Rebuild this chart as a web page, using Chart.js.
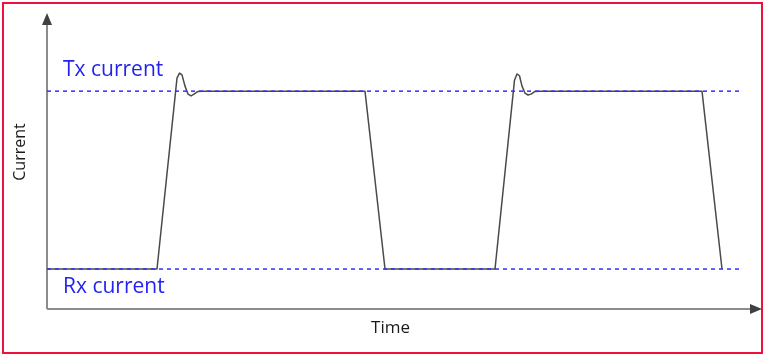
<!DOCTYPE html>
<html>
<head>
<meta charset="utf-8">
<script src="https://cdn.jsdelivr.net/npm/chart.js@4.4.1/dist/chart.umd.min.js"></script>
<style>
    html, body { margin: 0; padding: 0; background: #fff; }
</style>
</head>
<body>
<canvas id="chartContainer" width="765" height="355"></canvas>
<script>
// waveform (time, current), arbitrary units
const timeValues = [0, 22, 26, 26.5, 27, 27.6, 28.2, 28.8, 29.4, 30.2, 31, 63.6, 67.6,
    89.6, 93.5, 94, 94.5, 95, 95.6, 96.2, 96.8, 97.6, 98.4, 131, 135];
const currentValues = [1.35, 1.35, 7.80, 7.97, 7.91, 7.53, 7.26, 7.20, 7.26, 7.35, 7.36, 7.36, 1.35,
    1.35, 7.73, 7.94, 7.88, 7.53, 7.29, 7.23, 7.26, 7.35, 7.36, 7.36, 1.35];

// reference levels
const levelNames = ['Tx current', 'Rx current'];
const levelValues = [7.36, 1.35];
const levelSpan = [0, 139.2];

const axisTitleX = 'Time';
const axisTitleY = 'Current';

const timeMax = 143;
const currentMax = 10;

/**
 * Draws the frame, the arrowed axes, the level labels and the axis titles.
 */
const sketchPlugin = {
    id: 'sketch',
    beforeDatasetsDraw(chart) {
        const ctx = chart.ctx;
        const area = chart.chartArea;
        const x0 = chart.scales.x.getPixelForValue(0);
        const y0 = chart.scales.y.getPixelForValue(0);
        ctx.save();
        ctx.strokeStyle = '#f0103c';
        ctx.lineWidth = 2;
        ctx.strokeRect(3, 3, 759, 350);

        ctx.strokeStyle = '#8c8c8c';
        ctx.lineWidth = 2;
        ctx.beginPath();
        ctx.moveTo(x0, y0);
        ctx.lineTo(x0, area.top + 10);
        ctx.moveTo(x0, y0);
        ctx.lineTo(area.right - 10, y0);
        ctx.stroke();
        ctx.fillStyle = '#404040';
        ctx.beginPath();
        ctx.moveTo(x0, area.top);
        ctx.lineTo(x0 - 5, area.top + 12);
        ctx.lineTo(x0 + 5, area.top + 12);
        ctx.closePath();
        ctx.fill();
        ctx.beginPath();
        ctx.moveTo(area.right, y0);
        ctx.lineTo(area.right - 12, y0 - 5);
        ctx.lineTo(area.right - 12, y0 + 5);
        ctx.closePath();
        ctx.fill();
        ctx.restore();
    },
    afterDraw(chart) {
        const ctx = chart.ctx;
        const area = chart.chartArea;
        const x0 = chart.scales.x.getPixelForValue(0);
        const y0 = chart.scales.y.getPixelForValue(0);
        ctx.save();
        ctx.fillStyle = '#2323f0';
        ctx.font = '21px "Open Sans"';
        ctx.textAlign = 'left';
        ctx.textBaseline = 'alphabetic';
        ctx.fillText(levelNames[0], x0 + 16, chart.scales.y.getPixelForValue(levelValues[0]) - 15);
        ctx.fillText(levelNames[1], x0 + 16, chart.scales.y.getPixelForValue(levelValues[1]) + 24);

        ctx.fillStyle = '#1a1a1a';
        ctx.font = '17px "Open Sans"';
        ctx.textAlign = 'center';
        ctx.textBaseline = 'middle';
        ctx.fillText(axisTitleX, (area.left + area.right) / 2 - 14, y0 + 19);
        ctx.font = '16px "Open Sans"';
        ctx.translate(x0 - 27, 152);
        ctx.rotate(-Math.PI / 2);
        ctx.fillText(axisTitleY, 0, 0);
        ctx.restore();
    }
};

function levelLine(value) {
    return levelSpan.map(t => ({ x: t, y: value }));
}

function drawChart() {
    const ctx = document.getElementById('chartContainer');
    const waveform = timeValues.map((t, i) => ({ x: t, y: currentValues[i] }));
    window.myChart = new Chart(ctx, {
        type: 'line',
        data: {
            datasets: [{
                label: levelNames[0],
                data: levelLine(levelValues[0]),
                borderColor: '#3030ff',
                borderWidth: 1.5,
                borderDash: [4, 4],
                pointRadius: 0,
                fill: false
            }, {
                label: levelNames[1],
                data: levelLine(levelValues[1]),
                borderColor: '#3030ff',
                borderWidth: 1.5,
                borderDash: [4, 4],
                pointRadius: 0,
                fill: false
            }, {
                label: axisTitleY,
                data: waveform,
                borderColor: '#4a4a4a',
                borderWidth: 1.5,
                borderJoinStyle: 'round',
                tension: 0,
                pointRadius: 0,
                fill: false
            }]
        },
        options: {
            responsive: false,
            animation: false,
            devicePixelRatio: 1,
            layout: { padding: { left: 47, right: 3, top: 13, bottom: 46 } },
            scales: {
                x: { type: 'linear', min: 0, max: timeMax, display: false },
                y: { min: 0, max: currentMax, display: false }
            },
            elements: { line: { clip: false } },
            plugins: {
                legend: { display: false },
                tooltip: { enabled: false }
            }
        },
        plugins: [sketchPlugin]
    });
}

drawChart();
</script>
</body>
</html>
